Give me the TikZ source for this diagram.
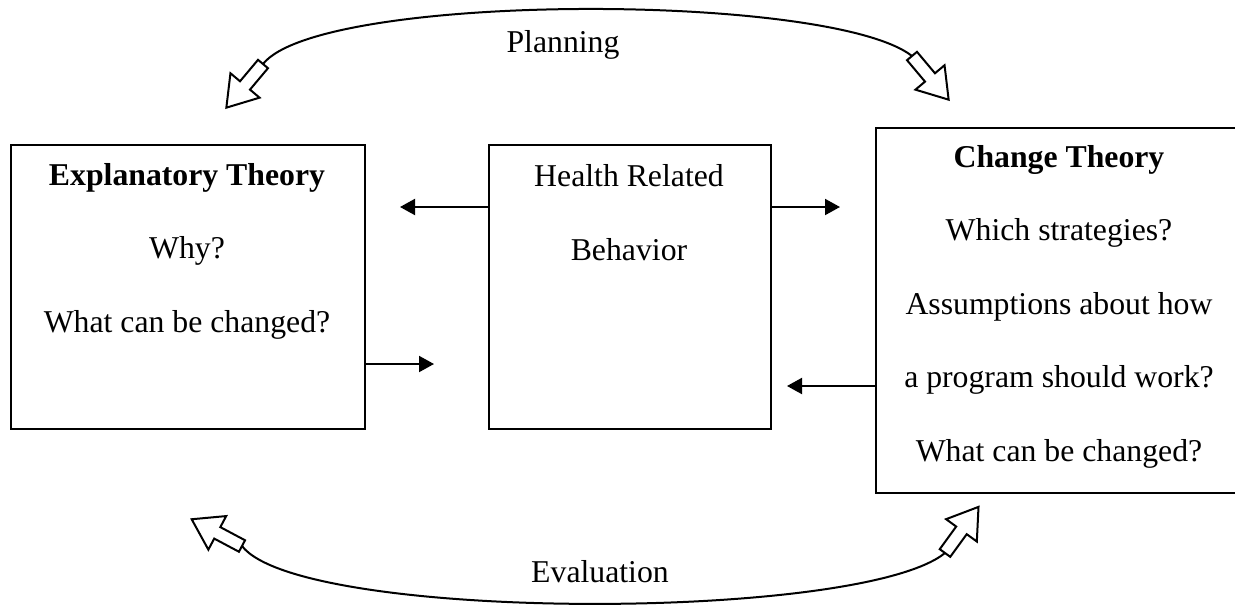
\documentclass[tikz,border=0pt]{standalone}
\usepackage{fontspec}
\setmainfont{Liberation Serif}
\usetikzlibrary{arrows.meta}

\tikzset{
  box/.style={draw, line width=0.8pt, anchor=north west, inner sep=0pt},
  boxtext/.style={anchor=base, align=center, inner sep=0pt, font=\fontsize{12.7}{29.4}\selectfont},
  link/.style={line width=0.8pt, -{Triangle[length=6pt,width=6.4pt]}},
  hollow/.style={line width=0.8pt, fill=white, line join=miter},
  loop/.style={line width=0.8pt},
  looplabel/.style={font=\fontsize{12.7}{15}\selectfont, inner sep=0pt},
}

\begin{document}
\begin{tikzpicture}[x=0.4pt,y=-0.4pt]
      \useasboundingbox (0,0) rectangle (1235,607);

      \node[box, minimum width=141.8pt, minimum height=113.6pt] (expl) at (9.5,144) {};
      \node[box, minimum width=112.8pt, minimum height=113.6pt] (hrb) at (488,144) {};
      \node[box, minimum width=147.2pt, minimum height=146pt] (chg) at (875,127) {};

      % anchor=base sits on the last line
      \node[boxtext] (expltxt) at (187,332) {\textbf{Explanatory Theory}\\Why?\\What can be changed?};
      \node[boxtext] (hrbtxt) at (629,260) {Health Related\\Behavior};
      \node[boxtext] (chgtxt) at (1059,461) {\textbf{Change Theory}\\Which strategies?\\Assumptions about how\\a program should work?\\What can be changed?};

      \coordinate (toexpl) at (400,207);
      \coordinate (tochg) at (840,207);
      \coordinate (fromexpl) at (434,364);
      \coordinate (fromchg) at (787,386);
      \draw[link] (hrb.west |- toexpl) -- (toexpl);
      \draw[link] (hrb.east |- tochg) -- (tochg);
      \draw[link] (expl.east |- fromexpl) -- (fromexpl);
      \draw[link] (chg.west |- fromchg) -- (fromchg);

      \draw[loop] (263,64) .. controls (320,-8) and (830,-8) .. (912,56);
      \draw[loop] (242,546) .. controls (300,622) and (860,622) .. (945,553);

      \begin{scope}[shift={(263,64)}, rotate=-130]
        \draw[hollow] (0,-6.5)--(28,-6.5)--(28,-19)--(57,0)--(28,19)--(28,6.5)--(0,6.5)--cycle;
      \end{scope}
      \begin{scope}[shift={(912,56)}, rotate=-50]
        \draw[hollow] (0,-6.5)--(28,-6.5)--(28,-19)--(57,0)--(28,19)--(28,6.5)--(0,6.5)--cycle;
      \end{scope}
      \begin{scope}[shift={(242,546)}, rotate=152]
        \draw[hollow] (0,-6.5)--(28,-6.5)--(28,-19)--(57,0)--(28,19)--(28,6.5)--(0,6.5)--cycle;
      \end{scope}
      \begin{scope}[shift={(945,553)}, rotate=54]
        \draw[hollow] (0,-6.5)--(28,-6.5)--(28,-19)--(57,0)--(28,19)--(28,6.5)--(0,6.5)--cycle;
      \end{scope}

      \node[looplabel] (plan) at (563,45) {Planning};
      \node[looplabel] (eval) at (600,572) {Evaluation};
\end{tikzpicture}
\end{document}
